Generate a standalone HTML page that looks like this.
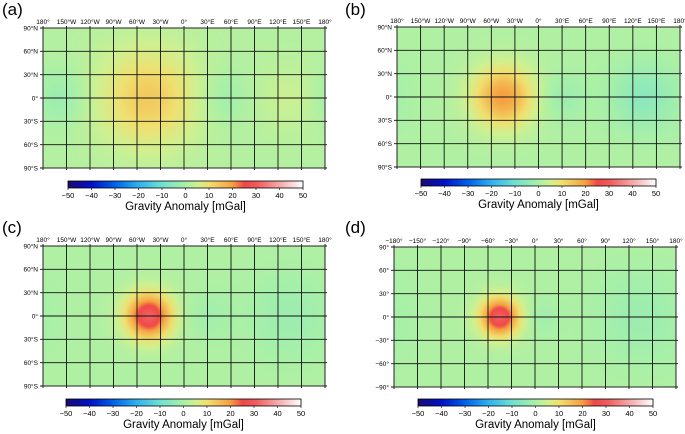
<!DOCTYPE html>
<html><head><meta charset="utf-8"><style>
body{margin:0;background:#fff;width:685px;height:434px;overflow:hidden;font-family:"Liberation Sans",sans-serif;position:relative}
.p{position:absolute}
</style></head><body>
<div id="root"></div>
<script>
// Panel anomaly sources: amplitude (mGal), lon, lat, sigma (deg)
const panelLabels = ['(a)','(b)','(c)','(d)'];
const backgroundValue = [1.5, 1, 1, 1];
const srcAmp = [[12, -4, -3, 3, 0], [19, -6, -3, 0, 0], [30, -3, -2, 0, 0], [30, -3, -2, 0, 0]];
const srcLon = [[-45, -160, 50, 135, 0], [-45, 135, 30, 0, 0], [-45, 135, 30, 0, 0], [-45, 135, 10, 0, 0]];
const srcLat = [[0, 0, 0, 0, 0], [0, 0, 0, 0, 0], [0, 0, 0, 0, 0], [0, 0, 0, 0, 0]];
const srcSig = [[44, 25, 25, 30, 1], [27, 28, 20, 1, 1], [20, 35, 20, 1, 1], [17, 40, 15, 1, 1]];
const lonTicksA = ['180°','150°W','120°W','90°W','60°W','30°W','0°','30°E','60°E','90°E','120°E','150°E','180°'];
const latTicksA = ['90°N','60°N','30°N','0°','30°S','60°S','90°S'];
const lonTicksD = ['−180°','−150°','−120°','−90°','−60°','−30°','0°','30°','60°','90°','120°','150°','180°'];
const latTicksD = ['90°','60°','30°','0°','−30°','−60°','−90°'];
const cbTicks = [-50,-40,-30,-20,-10,0,10,20,30,40,50];
const cmapV = [-50,-40,-30,-20,-10,0,5,10,20,25,30,40,50];
const cmapC = ['#1b0a70','#0010c8','#0060e8','#30b0f0','#70e0d0','#a8f0a8','#d0f090','#f0e070','#f5a040','#f04848','#f05858','#f4a8a8','#ffffff'];

const layout = [
 {map:[43,28,282,140], cb:[68,181,235,7], lab:[2,0], title:210},
 {map:[397,27,283,140], cb:[421,179,235,7], lab:[345,0], title:208},
 {map:[43,246,282,140], cb:[66,399,235,7], lab:[2,218], title:428},
 {map:[394,247,282,140], cb:[418,399,235,7], lab:[345,218], title:428}
];
function hex(c){return [1,3,5].map(i=>parseInt(c.substr(i,2),16));}
function cmap(v){
  v=Math.max(-50,Math.min(50,v));
  for(let i=0;i<cmapV.length-1;i++){if(v<=cmapV[i+1]){const t=(v-cmapV[i])/(cmapV[i+1]-cmapV[i]);const a=hex(cmapC[i]),b=hex(cmapC[i+1]);return a.map((x,k)=>Math.round(x+(b[k]-x)*t));}}
  return hex(cmapC[cmapC.length-1]);
}
function field(p,lon,lat){
  let v=backgroundValue[p];
  for(let i=0;i<srcAmp[p].length;i++){
    let dl=lon-srcLon[p][i]; if(dl>180)dl-=360; if(dl<-180)dl+=360;
    const dp=lat-srcLat[p][i]; const s=srcSig[p][i];
    v+=srcAmp[p][i]*Math.exp(-(dl*dl+dp*dp)/(2*s*s));
  }
  return v;
}
const root=document.getElementById('root');
function el(tag,style,text){const e=document.createElement(tag);e.className='p';e.style.cssText=style;if(text!=null)e.textContent=text;root.appendChild(e);return e;}
layout.forEach((L,p)=>{
  const [mx,my,mw,mh]=L.map;
  const lab=el('div',`left:${L.lab[0]}px;top:${L.lab[1]}px;font-size:17px;`,panelLabels[p]);
  
  
  const cv=el('canvas',`left:${mx}px;top:${my}px;width:${mw}px;height:${mh}px;`);
  cv.width=mw;cv.height=mh;
  
  
  const ctx=cv.getContext('2d');const img=ctx.createImageData(mw,mh);
  for(let y=0;y<mh;y++)for(let x=0;x<mw;x++){
    const lon=-180+360*(x+0.5)/mw, lat=90-180*(y+0.5)/mh;
    const c=cmap(field(p,lon,lat));const k=(y*mw+x)*4;
    img.data[k]=c[0];img.data[k+1]=c[1];img.data[k+2]=c[2];img.data[k+3]=255;
  }
  ctx.putImageData(img,0,0);
  const svgNS='http://www.w3.org/2000/svg';
  const svg=document.createElementNS(svgNS,'svg');
  svg.setAttribute('width',685);svg.setAttribute('height',434);
  svg.style.cssText='position:absolute;left:0;top:0';
  
  
  let s='';
  const lonT=p==3?lonTicksD:lonTicksA, latT=p==3?latTicksD:latTicksA;
  lonT.forEach((t,i)=>{const x=mx+mw*i/12;s+=`<line x1="${x}" y1="${my-2}" x2="${x}" y2="${my+mh+2}" stroke="#111" stroke-width="0.9"/>`;
    s+=`<text x="${x}" y="${my-4}" font-size="6.5" text-anchor="middle" font-family="Liberation Sans">${t}</text>`;});
  latT.forEach((t,i)=>{const y=my+mh*i/6;s+=`<line x1="${mx-3}" y1="${y}" x2="${mx+mw+2}" y2="${y}" stroke="#111" stroke-width="0.9"/>`;
    s+=`<text x="${mx-5}" y="${y+2.3}" font-size="6.5" text-anchor="end" font-family="Liberation Sans">${t}</text>`;});
  s+=`<rect x="${mx}" y="${my}" width="${mw}" height="${mh}" fill="none" stroke="#222" stroke-width="1"/>`;
  const [cx,cy,cw,ch]=L.cb;
  let stops=cmapV.map((v,i)=>`<stop offset="${(v+50)/100}" stop-color="${cmapC[i]}"/>`).join('');
  s+=`<defs><linearGradient id="g${p}">${stops}</linearGradient></defs>`;
  s+=`<rect x="${cx}" y="${cy}" width="${cw}" height="${ch}" fill="url(#g${p})" stroke="#000" stroke-width="0.8"/>`;
  cbTicks.forEach(v=>{const x=cx+cw*(v+50)/100;s+=`<line x1="${x}" y1="${cy+ch}" x2="${x}" y2="${cy+ch+2}" stroke="#000" stroke-width="0.6"/>`;
    s+=`<text x="${x}" y="${cy+ch+10}" font-size="7.5" text-anchor="middle" font-family="Liberation Sans">${v<0?'−'+(-v):v}</text>`;});
  s+=`<text x="${cx+cw/2}" y="${L.title}" font-size="11.5" text-anchor="middle" font-family="Liberation Sans">Gravity Anomaly [mGal]</text>`;
  svg.innerHTML=s;root.appendChild(svg);
});
</script>
</body></html>
